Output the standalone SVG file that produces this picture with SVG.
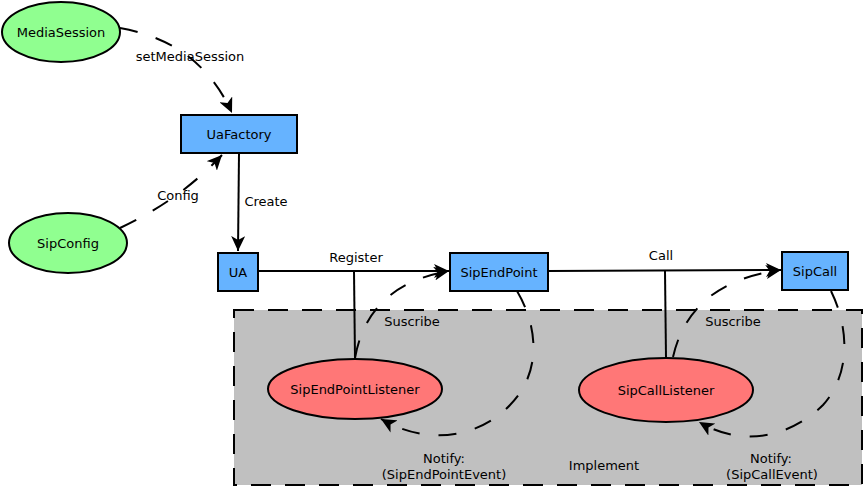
<svg xmlns="http://www.w3.org/2000/svg" width="864" height="486" viewBox="0 0 864 486">
<style>
text{font-family:"DejaVu Sans","Liberation Sans",sans-serif;font-size:13px;fill:#000;text-anchor:middle}
.green{fill:#90ff90;stroke:#000;stroke-width:2}
.red{fill:#ff7777;stroke:#000;stroke-width:2}
.blue{fill:#66b3ff;stroke:#000;stroke-width:2}
.solid{fill:none;stroke:#000;stroke-width:2}
.dash{fill:none;stroke:#000;stroke-width:2;stroke-dasharray:18,19}
</style>
<defs>
<marker id="ah" markerUnits="userSpaceOnUse" markerWidth="16" markerHeight="14" refX="15" refY="7" orient="auto">
<path d="M0,0 L15,7 L0,14 L4,7 z" fill="#000"/>
</marker>
</defs>
<rect x="0" y="0" width="864" height="486" fill="#fff"/>
<g id="implement-region">
<rect x="234" y="310" width="628" height="175" fill="#c0c0c0" stroke="#000" stroke-width="2" stroke-dasharray="20,14"/>
<text x="604" y="470">Implement</text>
</g>
<g id="connectors">
<path class="dash" d="M120,28 Q200,42 232,113" marker-end="url(#ah)"/>
<path class="dash" d="M120,228 Q180,200 222,155" marker-end="url(#ah)"/>
<path class="solid" d="M239,153 L238,251" marker-end="url(#ah)"/>
<path class="solid" d="M258,271 L449,271" marker-end="url(#ah)"/>
<path class="solid" d="M354,271 L355,359"/>
<path class="solid" d="M548,271 L781,270" marker-end="url(#ah)"/>
<path class="solid" d="M665,271 L666,358"/>
<path class="dash" d="M355,358 Q368,285 449,271" marker-end="url(#ah)"/>
<path class="dash" d="M517,291 C540,330 540,375 510,405 C485,432 435,450 381,419" marker-end="url(#ah)"/>
<path class="dash" d="M673,357 Q690,282 781,270" marker-end="url(#ah)"/>
<path class="dash" d="M831,291 C850,330 850,375 823,405 C798,430 750,452 699,422" marker-end="url(#ah)"/>
<text x="190" y="61">setMediaSession</text>
<text x="178" y="200">Config</text>
<text x="266" y="206">Create</text>
<text x="356" y="262">Register</text>
<text x="661" y="260">Call</text>
<text x="412" y="326">Suscribe</text>
<text x="733" y="326">Suscribe</text>
<text x="444" y="463">Notify:</text>
<text x="444" y="479">(SipEndPointEvent)</text>
<text x="771" y="463">Notify:</text>
<text x="772" y="479">(SipCallEvent)</text>
</g>
<g id="MediaSession">
<ellipse class="green" cx="61" cy="32" rx="59" ry="30"/>
<text x="61" y="37">MediaSession</text>
</g>
<g id="SipConfig">
<ellipse class="green" cx="68" cy="243" rx="59" ry="30"/>
<text x="68" y="248">SipConfig</text>
</g>
<g id="UaFactory">
<rect class="blue" x="181" y="115" width="116" height="38"/>
<text x="239" y="139">UaFactory</text>
</g>
<g id="UA">
<rect class="blue" x="218" y="253" width="40" height="38"/>
<text x="238" y="277">UA</text>
</g>
<g id="SipEndPoint">
<rect class="blue" x="450" y="253" width="98" height="38"/>
<text x="499" y="277">SipEndPoint</text>
</g>
<g id="SipCall">
<rect class="blue" x="782" y="252" width="66" height="38"/>
<text x="815" y="276">SipCall</text>
</g>
<g id="SipEndPointListener">
<ellipse class="red" cx="355" cy="389" rx="87" ry="30"/>
<text x="355" y="394">SipEndPointListener</text>
</g>
<g id="SipCallListener">
<ellipse class="red" cx="666" cy="390" rx="87" ry="32"/>
<text x="666" y="395">SipCallListener</text>
</g>
</svg>
